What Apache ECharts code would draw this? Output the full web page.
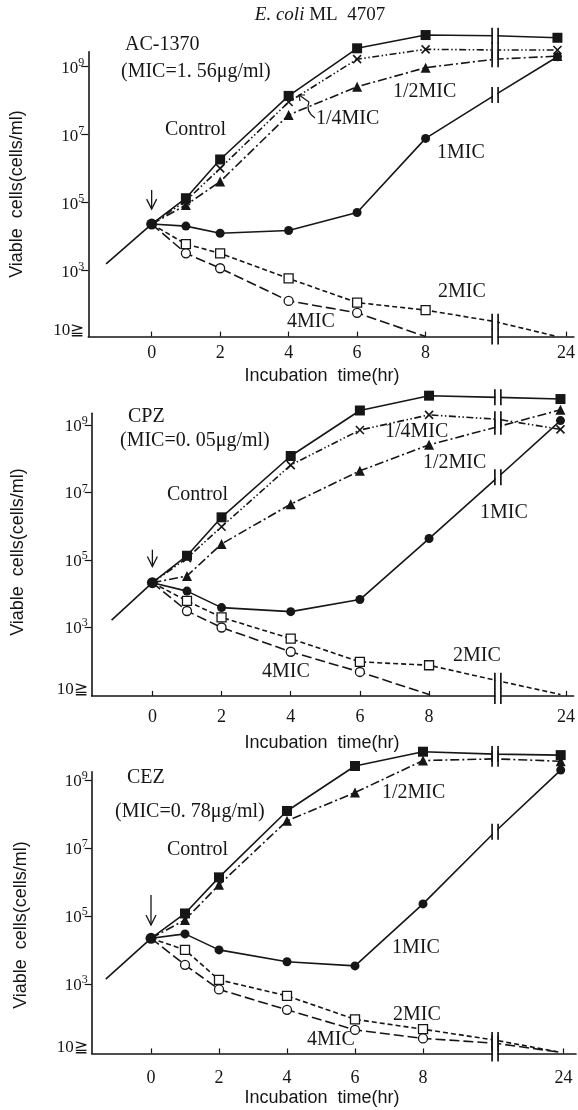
<!DOCTYPE html>
<html>
<head>
<meta charset="utf-8">
<title>E. coli ML 4707</title>
<script src="https://cdn.jsdelivr.net/npm/echarts@6/dist/echarts.min.js"></script>
<style>
  html, body { margin: 0; padding: 0; background: #fff; }
  #chart { width: 578px; height: 1110px; }
</style>
</head>
<body>
<div id="chart"></div>
<script>
// sampling times (hr); 24 h sits behind the axis break
const hours = [0, 1, 2, 4, 6, 8, 24];
// values are log10(viable cells/ml); 1 means "10 or less"
const LIMIT = 1;

// AC-1370
const acPre = [-1.33, 3.2];
const acControl = [4.37, 5.13, 6.27, 8.14, 9.54, 9.93, 9.85];
const acQuarter = [4.37, 5.05, 6.01, 7.96, 9.22, 9.51, 9.49];
const acHalf = [4.37, 4.93, 5.62, 7.58, 8.41, 8.97, 9.31];
const acOne = [4.37, 4.31, 4.10, 4.18, 4.71, 6.89, 9.29];
const acTwo = [4.37, 3.78, 3.51, 2.77, 2.06, 1.84, 1];
const acFour = [4.37, 3.51, 3.07, 2.11, 1.76, 1, null];
// value where each line crosses the break (control, 1/4, 1/2, 1, 2, 4 MIC)
const acBreak = [9.91, 9.49, 9.22, 8.17, 1.5, null];

// CPZ
const cpzPre = [-1.18, 3.21];
const cpzControl = [4.32, 5.12, 6.26, 8.08, 9.43, 9.87, 9.77];
const cpzQuarter = [4.32, 5.05, 5.98, 7.81, 8.85, 9.30, 8.87];
const cpzHalf = [4.32, 4.52, 5.47, 6.65, 7.64, 8.41, 9.45];
const cpzOne = [4.32, 4.07, 3.58, 3.46, 3.82, 5.63, 9.13];
const cpzTwo = [4.32, 3.78, 3.29, 2.66, 1.97, 1.87, 1];
const cpzFour = [4.32, 3.48, 2.99, 2.27, 1.67, 1, null];
const cpzBreak = [9.82, 9.17, 8.95, 7.45, 1.41, null];

// CEZ (no 1/4 MIC)
const cezPre = [-1.33, 3.15];
const cezControl = [4.35, 5.08, 6.14, 8.09, 9.41, 9.83, 9.73];
const cezHalf = [4.35, 4.89, 5.92, 7.80, 8.63, 9.57, 9.55];
const cezOne = [4.35, 4.48, 4.01, 3.66, 3.54, 5.36, 9.29];
const cezTwo = [4.35, 4.01, 3.13, 2.66, 1.97, 1.68, 1];
const cezFour = [4.35, 3.57, 2.85, 2.25, 1.66, 1.41, 1];
const cezBreak = [9.76, 9.62, 7.48, 1.36, 1.27];

const xTicks = [0, 2, 4, 6, 8];
const yTicks = [3, 5, 7, 9];

const INK = '#161616';
const LW = 1.6;
const SERIF = '"Liberation Serif", "Times New Roman", "DejaVu Serif", serif';
const SANS = '"Liberation Sans", Arial, "DejaVu Sans", sans-serif';
const crossPath = 'path://M0,0L10,10M10,0L0,10';

const styles = {
  control: { dash: 'solid', symbol: 'rect', size: 10, fill: INK, z: 6 },
  quarter: { dash: [7, 2.5, 1.5, 2.5, 1.5, 2.5], symbol: crossPath, size: 8, fill: 'transparent', border: 1.6, z: 5 },
  half: { dash: [9, 3, 2, 3], symbol: 'triangle', size: 10, fill: INK, z: 5 },
  one: { dash: 'solid', symbol: 'circle', size: 9, fill: INK, z: 6 },
  two: { dash: [5, 3], symbol: 'rect', size: 9, fill: '#fff', border: 1.3, z: 7 },
  four: { dash: [10, 4], symbol: 'circle', size: 9, fill: '#fff', border: 1.3, z: 7 }
};

function lines(kinds, arrays, brk) {
  return kinds.map((k, i) => ({ kind: k, values: arrays[i], brk: brk[i] }));
}

const panels = [
  {
    grid: { left: 88.3, top: 51.7, width: 487.7, height: 284.9 },
    xMin: -1.85, xMax: 12.33, yMin: 1.06, yTop: 9.44,
    brkX: 10.03, pos24: 11.85, tick24: 12.1, labelMargin: 8,
    arrow: [5.37, 4.81], pre: acPre,
    series: lines(['control', 'quarter', 'half', 'one', 'two', 'four'],
      [acControl, acQuarter, acHalf, acOne, acTwo, acFour], acBreak),
    labels: [['AC-1370', 125, 45], ['(MIC=1. 56μg/ml)', 121, 72], ['Control', 165, 130],
      ['1/4MIC', 316, 119], ['1/2MIC', 393, 92], ['1MIC', 437, 153], ['2MIC', 438, 292], ['4MIC', 287, 322]],
    yTitle: [17, 194], xTitle: [322, 376]
  },
  {
    grid: { left: 91.7, top: 413.2, width: 484.3, height: 282.7 },
    xMin: -1.755, xMax: 12.18, yMin: 0.96, yTop: 9.35,
    brkX: 9.99, pos24: 11.8, tick24: 11.96, labelMargin: 12,
    arrow: [5.3, 4.8], pre: cpzPre,
    series: lines(['control', 'quarter', 'half', 'one', 'two', 'four'],
      [cpzControl, cpzQuarter, cpzHalf, cpzOne, cpzTwo, cpzFour], cpzBreak),
    labels: [['CPZ', 128, 417], ['(MIC=0. 05μg/ml)', 120, 441], ['Control', 167, 495],
      ['1/4MIC', 385, 432], ['1/2MIC', 423, 463], ['1MIC', 480, 513], ['2MIC', 453, 656], ['4MIC', 262, 672]],
    yTitle: [18, 552], xTitle: [322, 743]
  },
  {
    grid: { left: 91.7, top: 771.8, width: 484.3, height: 281.6 },
    xMin: -1.744, xMax: 12.5, yMin: 0.97, yTop: 9.24,
    brkX: 10.12, pos24: 12.05, tick24: 12.13, labelMargin: 16,
    arrow: [5.62, 4.74], pre: cezPre,
    series: lines(['control', 'half', 'one', 'two', 'four'],
      [cezControl, cezHalf, cezOne, cezTwo, cezFour], cezBreak),
    labels: [['CEZ', 127, 778], ['(MIC=0. 78μg/ml)', 115, 812], ['Control', 167, 850],
      ['1/2MIC', 382, 793], ['1MIC', 392, 948], ['2MIC', 393, 1015], ['4MIC', 307, 1040]],
    yTitle: [21, 925], xTitle: [322, 1098]
  }
];

const grids = [], xAxes = [], yAxes = [], series = [], graphics = [];

panels.forEach((p, pi) => {
  grids.push(Object.assign({ containLabel: false }, p.grid));
  const xVals = xTicks.concat([p.tick24]);
  xAxes.push({
    gridIndex: pi, type: 'value', min: p.xMin, max: p.xMax,
    axisLine: { onZero: false, lineStyle: { color: INK, width: LW } },
    axisTick: { inside: true, length: 5, customValues: xVals, lineStyle: { color: INK, width: 1.2 } },
    axisLabel: {
      customValues: xVals, margin: p.labelMargin, color: INK, fontFamily: SERIF, fontSize: 18,
      formatter: v => (v > 8 ? '24' : String(v))
    },
    splitLine: { show: false }
  });
  yAxes.push({
    gridIndex: pi, type: 'value', min: p.yMin, max: p.yTop,
    axisLine: { show: true, onZero: false, lineStyle: { color: INK, width: LW } },
    axisTick: { show: true, length: 7, customValues: yTicks, lineStyle: { color: INK, width: 1.2 } },
    axisLabel: {
      customValues: [p.yMin + 0.22].concat(yTicks), margin: 4, color: INK,
      formatter: v => (yTicks.indexOf(v) >= 0 ? '{b|10}{s|' + v + '}' : '{b|10≧}'),
      rich: {
        b: { fontFamily: SERIF, fontSize: 17, color: INK, lineHeight: 20, verticalAlign: 'bottom' },
        s: { fontFamily: SERIF, fontSize: 12, color: INK, lineHeight: 20, verticalAlign: 'top' }
      }
    },
    splitLine: { show: false }
  });

  // growth before the drug was added
  series.push({
    type: 'line', xAxisIndex: pi, yAxisIndex: pi, silent: true, clip: false, z: 4,
    symbol: 'none', lineStyle: { color: INK, width: LW },
    data: [p.pre, [0, p.series[0].values[0]]]
  });

  const breaks = [[p.brkX, p.yMin]];
  p.series.forEach(s => {
    const st = styles[s.kind];
    const data = [];
    hours.forEach((h, i) => {
      const v = s.values[i];
      if (v == null) return;
      if (h === 24 && s.brk != null) data.push({ value: [p.brkX, s.brk], symbol: 'none' });
      const item = { value: [h > 8 ? p.pos24 : h, Math.max(v, p.yMin)] };
      if (v <= LIMIT || (i === 0 && s.kind !== 'one')) item.symbol = 'none';
      if (i === 0 && s.kind === 'one') item.symbolSize = 11;
      data.push(item);
    });
    if (s.brk != null) breaks.push([p.brkX, s.brk]);
    series.push({
      type: 'line', xAxisIndex: pi, yAxisIndex: pi, silent: true, clip: false, z: st.z,
      symbol: st.symbol, symbolSize: st.size, showAllSymbol: true,
      lineStyle: { color: INK, width: LW, type: st.dash },
      itemStyle: { color: st.fill, borderColor: INK, borderWidth: st.border || 0 },
      data
    });
  });

  // double-bar axis break marks
  series.push({
    type: 'custom', xAxisIndex: pi, yAxisIndex: pi, silent: true, clip: false, z: 9,
    data: breaks,
    renderItem: (params, api) => {
      const c = api.coord([api.value(0), api.value(1)]);
      const bar = dx => ({
        type: 'line',
        shape: { x1: c[0] + dx, y1: c[1] - 8, x2: c[0] + dx, y2: c[1] + 8 },
        style: { stroke: INK, lineWidth: 1.7 }
      });
      return {
        type: 'group',
        children: [
          { type: 'rect', shape: { x: c[0] - 2.2, y: c[1] - 8, width: 4.4, height: 16 }, style: { fill: '#fff' } },
          bar(-3), bar(3)
        ]
      };
    }
  });

  // arrow at drug addition
  series.push({
    type: 'custom', xAxisIndex: pi, yAxisIndex: pi, silent: true, clip: false, z: 9,
    data: [[0, p.arrow[0], p.arrow[1]]],
    renderItem: (params, api) => {
      const a = api.coord([api.value(0), api.value(1)]);
      const b = api.coord([api.value(0), api.value(2)]);
      return {
        type: 'group',
        children: [
          { type: 'line', shape: { x1: a[0], y1: a[1], x2: b[0], y2: b[1] }, style: { stroke: INK, lineWidth: 1.3 } },
          { type: 'polyline', shape: { points: [[b[0] - 5, b[1] - 10], [b[0], b[1]], [b[0] + 5, b[1] - 10]] },
            style: { stroke: INK, lineWidth: 1.3, fill: null } }
        ]
      };
    }
  });

  p.labels.forEach(l => {
    graphics.push({
      type: 'text', x: l[1], y: l[2], silent: true,
      style: { text: l[0], fill: INK, font: '20px ' + SERIF, align: 'left', verticalAlign: 'middle' }
    });
  });
  graphics.push({
    type: 'text', x: p.yTitle[0], y: p.yTitle[1], rotation: Math.PI / 2, silent: true,
    style: { text: 'Viable  cells(cells/ml)', fill: INK, font: '18px ' + SANS, align: 'center', verticalAlign: 'middle' }
  });
  graphics.push({
    type: 'text', x: p.xTitle[0], y: p.xTitle[1], silent: true,
    style: { text: 'Incubation  time(hr)', fill: INK, font: '18px ' + SANS, align: 'center', verticalAlign: 'middle' }
  });
});

// callout for 1/4MIC in the first panel
graphics.push({
  type: 'bezierCurve', silent: true,
  shape: { x1: 315, y1: 118, cpx1: 305, cpy1: 111, x2: 309, y2: 102 },
  style: { stroke: INK, lineWidth: 1.2, fill: null }
});
graphics.push({
  type: 'polyline', silent: true,
  shape: { points: [[309, 102], [299, 95]] },
  style: { stroke: INK, lineWidth: 1.2, fill: null }
});
graphics.push({
  type: 'polyline', silent: true,
  shape: { points: [[300, 101], [299, 95], [305, 95]] },
  style: { stroke: INK, lineWidth: 1.2, fill: null }
});

// title
graphics.push({
  type: 'text', x: 320, y: 15, silent: true,
  style: {
    text: '{i|E. coli} ML  4707', fill: INK, font: '19px ' + SERIF, align: 'center', verticalAlign: 'middle',
    rich: { i: { fontStyle: 'italic', fontFamily: SERIF, fontSize: 19, fill: INK } }
  }
});

const myChart = echarts.init(document.getElementById('chart'));
myChart.setOption({
  animation: false,
  backgroundColor: '#fff',
  grid: grids,
  xAxis: xAxes,
  yAxis: yAxes,
  series: series,
  graphic: graphics
});
</script>
</body>
</html>
